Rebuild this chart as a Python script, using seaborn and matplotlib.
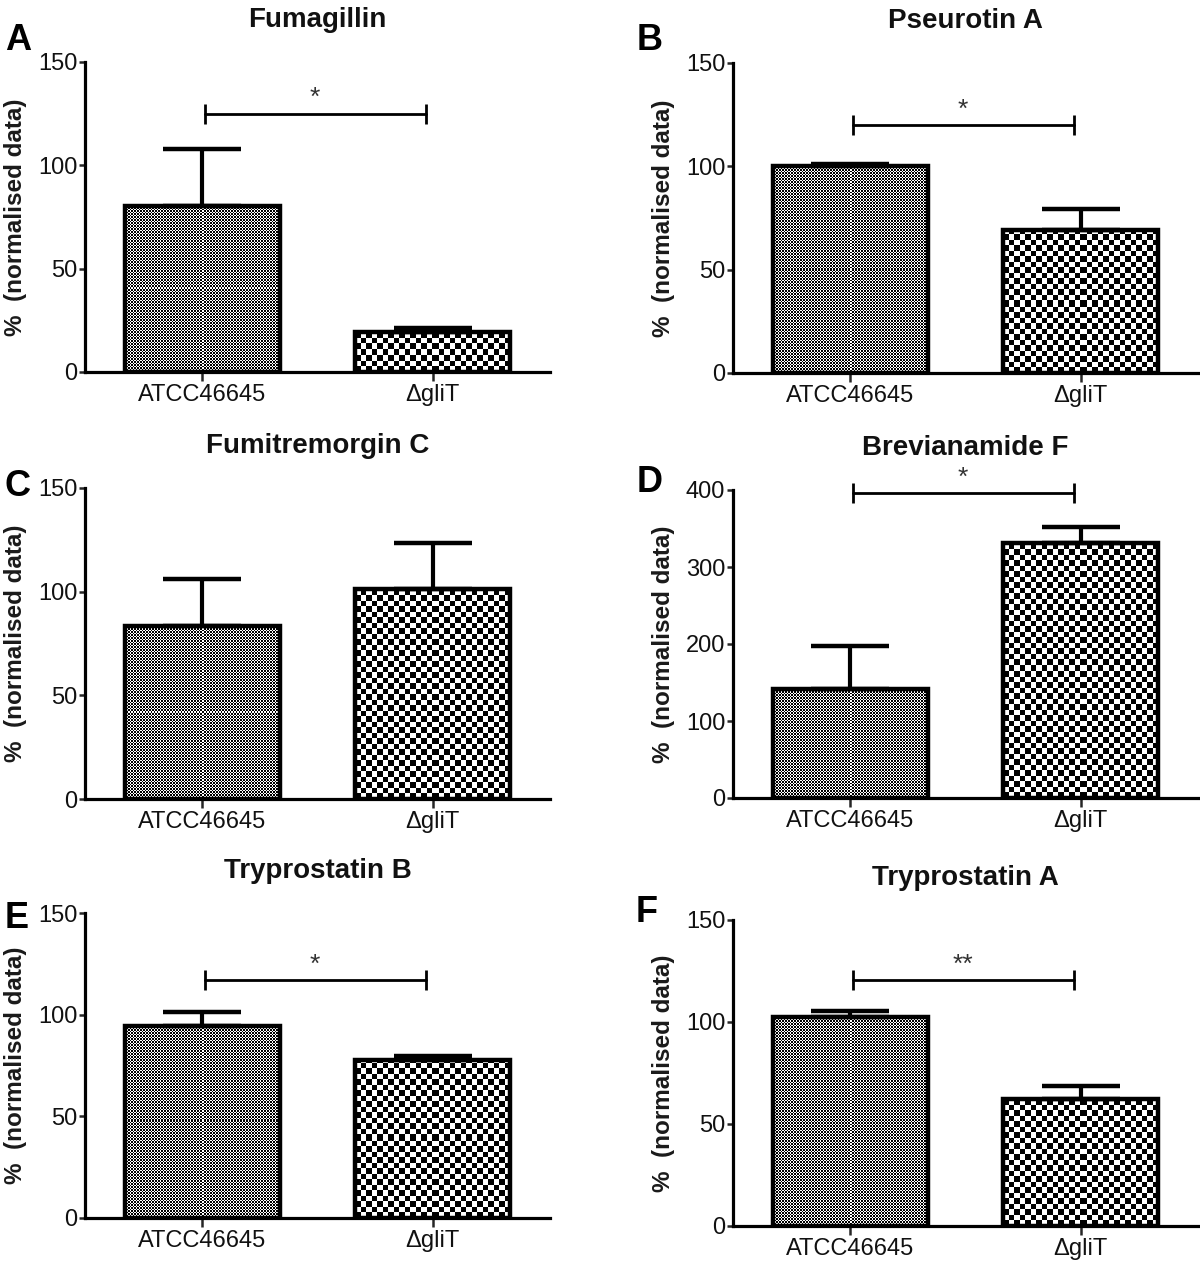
import matplotlib

matplotlib.use("Agg")
import matplotlib.pyplot as plt
import numpy as np
import pandas as pd
import seaborn as sns

# values (mean and upper SEM arm, % normalised)
compounds = ["Fumagillin", "Pseurotin A", "Fumitremorgin C", "Brevianamide F", "Tryprostatin B", "Tryprostatin A"]
panel_letters = ["A", "B", "C", "D", "E", "F"]
strains = ["ATCC46645", "\u0394gliT"]
mean_atcc = [80.5, 100.4, 83.6, 141.0, 94.6, 102.3]
mean_glit = [19.5, 69.2, 101.1, 331.6, 77.9, 62.1]
sem_atcc = [27.4, 0.5, 22.5, 56.4, 6.5, 3.1]
sem_glit = [1.8, 10.2, 22.2, 20.8, 1.6, 6.5]
sig_labels = ["*", "*", "", "*", "*", "**"]
sig_heights = [125, 120, None, 396, 117, 120.5]
y_max = [150, 150, 150, 400, 150, 150]
y_step = [50, 50, 50, 100, 50, 50]

sns.set_theme(style="ticks")
plt.rcParams["font.family"] = ["Liberation Sans", "DejaVu Sans"]

W, H = 1200, 1266
# axes boxes in pixels: x_left, x_right, y_of_zero, y_of_top
layout = [
    (85, 550, 372, 62),
    (733, 1198, 373, 63),
    (85, 550, 799, 488),
    (733, 1198, 798, 490),
    (85, 550, 1218, 913),
    (733, 1198, 1226, 920),
]
letter_pos = [(18, 40), (650, 40), (17, 486), (650, 483), (17, 918), (647, 912)]
texture_cells = [1.5, 5.5]  # fine halftone for wild type, coarse checkerboard for mutant

fig = plt.figure(figsize=(W / 100, H / 100), dpi=100)


def fill_texture(ax, patch, cell):
    x0, w, h = patch.get_x(), patch.get_width(), patch.get_height()
    (px0, py0), (px1, py1) = ax.transData.transform([(x0, 0), (x0 + w, h)])
    nx, ny = max(1, int(round(px1 - px0))), max(1, int(round(py1 - py0)))
    cols, rows = np.meshgrid(np.arange(nx), np.arange(ny))
    board = ((np.floor(rows / cell) + np.floor(cols / cell)) % 2).astype(float)
    ax.imshow(board, extent=(x0, x0 + w, 0, h), origin="lower", cmap="gray", vmin=0, vmax=1,
              interpolation="nearest", aspect="auto", zorder=1.5)


for i, compound in enumerate(compounds):
    x_left, x_right, y_zero, y_top = layout[i]
    ax = fig.add_axes([x_left / W, 1 - y_zero / H, (x_right - x_left) / W, (y_zero - y_top) / H])

    data = pd.DataFrame({"strain": strains, "value": [mean_atcc[i], mean_glit[i]]})
    sns.barplot(data, x="strain", y="value", order=strains, color="white", width=0.67,
                errorbar=None, edgecolor="black", linewidth=3.2, ax=ax)

    xlim, ylim = (-0.51, 1.51), (0, y_max[i])
    ax.set_xlim(xlim)
    ax.set_ylim(ylim)

    bars = list(ax.patches)
    for bar, cell in zip(bars, texture_cells):
        fill_texture(ax, bar, cell)
        bar.set_facecolor("none")
        bar.set_zorder(2)
    ax.set_xlim(xlim)
    ax.set_ylim(ylim)

    centers = [b.get_x() + b.get_width() / 2 for b in bars]
    tops = [b.get_height() for b in bars]
    ax.errorbar(centers, tops, yerr=[[0, 0], [sem_atcc[i], sem_glit[i]]], fmt="none",
                ecolor="black", elinewidth=3, capsize=28, capthick=3.2, zorder=3)

    if sig_labels[i]:
        xa, xb = centers[0] + 0.01, centers[1] - 0.03
        h = sig_heights[i]
        ax.plot([xa, xb], [h, h], color="black", lw=2, marker="|", ms=14, mew=2,
                clip_on=False, zorder=3)
        ax.annotate(sig_labels[i], xy=((xa + xb) / 2, h), xytext=(0, 6), textcoords="offset points",
                    ha="center", va="baseline", fontsize=19, color="#333333")

    ax.set_yticks(np.arange(0, y_max[i] + 1, y_step[i]))
    ax.set_xlabel("")
    ax.set_ylabel("%  (normalised data)", fontsize=17.5, fontweight="bold", color="#1a1a1a")
    ax.yaxis.set_label_coords(-0.125, 0.5)
    ax.set_title(compound, fontsize=20, fontweight="bold", pad=25, color="#111111")

    sns.despine(ax=ax)
    for side in ("left", "bottom"):
        ax.spines[side].set_linewidth(2.3)
        ax.spines[side].set_color("black")
    ax.tick_params(axis="y", length=4.5, width=1.8, pad=1, labelsize=17, labelcolor="#111111")
    ax.tick_params(axis="x", length=6.5, width=1.8, pad=2, labelsize=17, labelcolor="#111111")

    lx, ly = letter_pos[i]
    fig.text(lx / W, 1 - ly / H, panel_letters[i], fontsize=26, fontweight="bold",
             ha="center", va="center", color="black")

fig.savefig("out.png", dpi=100)
plt.close(fig)
